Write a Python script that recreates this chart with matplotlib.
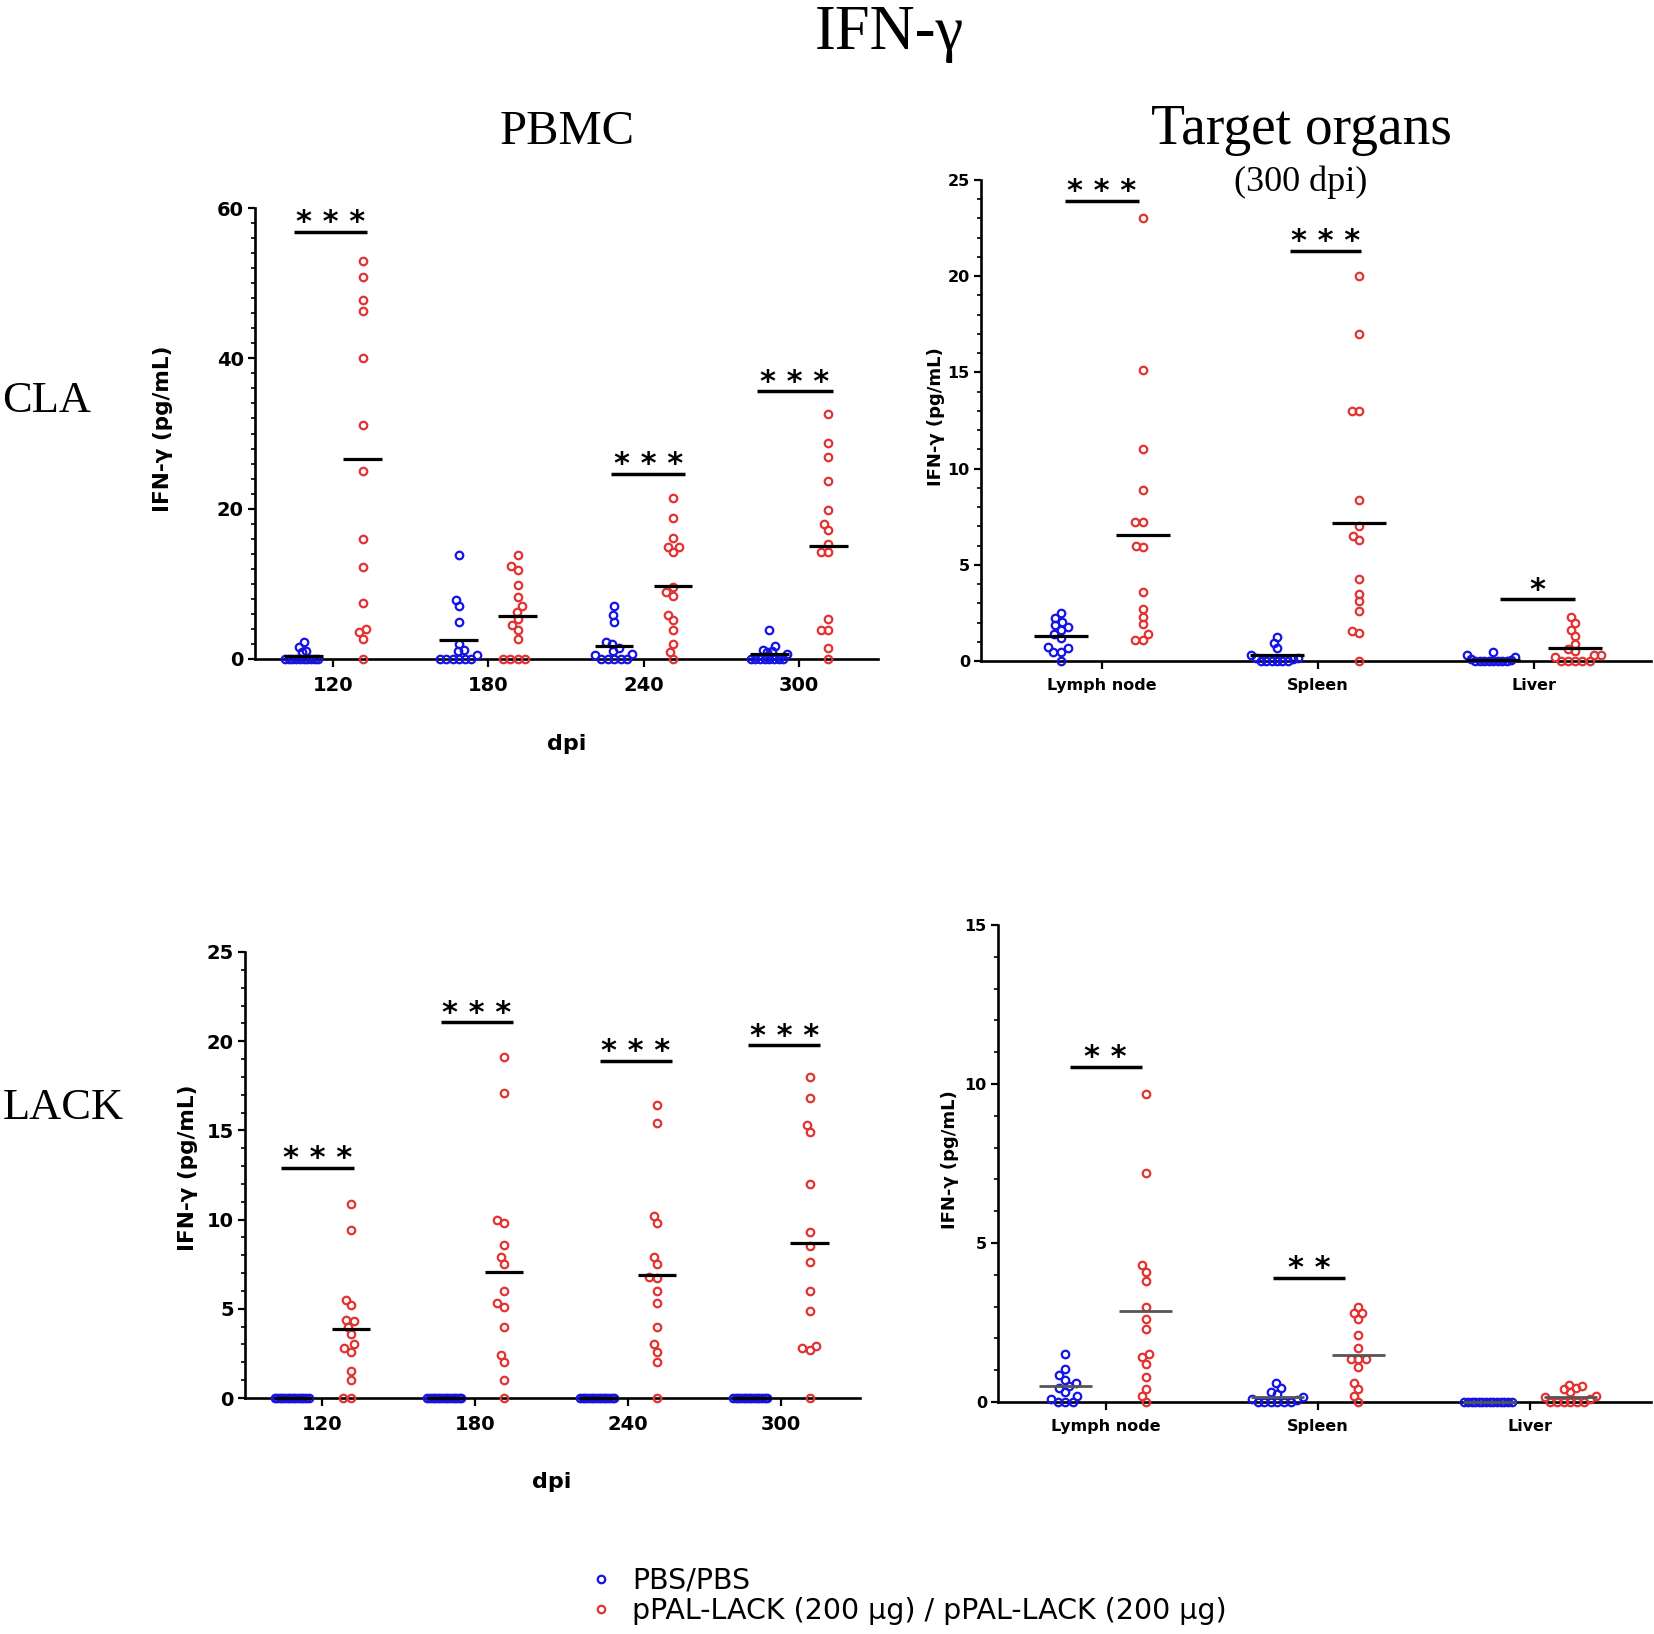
import numpy as np
import matplotlib
matplotlib.use('Agg')
import matplotlib.pyplot as plt
from matplotlib.lines import Line2D
from matplotlib.ticker import MultipleLocator

W, H, DPI = 1654, 1634, 100

# ---------------- data ----------------
pbmc_days = ['120', '180', '240', '300']
organs = ['Lymph node', 'Spleen', 'Liver']

cla_pbmc_pbs = [
    [2.3, 1.6, 1.1, 0.9, 0, 0, 0, 0, 0, 0, 0, 0, 0, 0],
    [13.9, 7.9, 7.0, 4.9, 2.0, 1.2, 1.0, 0.5, 0, 0, 0, 0, 0, 0],
    [7.0, 5.9, 4.9, 2.3, 2.0, 1.5, 1.0, 0.6, 0.5, 0, 0, 0, 0, 0],
    [3.9, 1.7, 1.2, 1.0, 0.9, 0.7, 0, 0, 0, 0, 0, 0, 0, 0],
]
cla_pbmc_lack = [
    [53.0, 50.8, 47.8, 46.3, 40.0, 31.1, 25.0, 16.0, 12.3, 7.5, 4.0, 3.6, 2.7, 0],
    [13.9, 12.4, 11.9, 9.9, 8.2, 7.0, 6.3, 5.3, 4.5, 3.9, 2.6, 0, 0, 0, 0],
    [21.4, 18.7, 16.1, 14.9, 14.9, 14.2, 9.6, 8.9, 8.4, 5.9, 5.2, 3.9, 2.0, 0.9, 0],
    [32.6, 28.8, 26.9, 23.7, 19.8, 17.9, 17.1, 15.3, 14.2, 14.2, 5.3, 3.9, 3.9, 1.4, 0],
]
cla_pbmc_pbs_mean = [0.4, 2.5, 1.7, 0.65]
cla_pbmc_lack_mean = [26.6, 5.7, 9.7, 15.0]

cla_org_pbs = [
    [2.5, 2.25, 2.05, 1.85, 1.75, 1.6, 1.4, 1.2, 0.75, 0.65, 0.45, 0.45, 0],
    [1.25, 0.95, 0.65, 0.3, 0.15, 0.15, 0.1, 0, 0, 0, 0, 0, 0],
    [0.45, 0.3, 0.2, 0.1, 0.05, 0, 0, 0, 0, 0, 0, 0, 0],
]
cla_org_lack = [
    [23.0, 15.1, 11.0, 8.9, 7.2, 7.2, 6.0, 5.9, 3.6, 2.7, 2.3, 1.9, 1.4, 1.1, 1.1],
    [20.0, 17.0, 13.0, 13.0, 8.35, 7.0, 6.5, 6.3, 4.25, 3.5, 3.1, 2.6, 1.55, 1.45, 0],
    [2.3, 2.0, 1.6, 1.3, 0.9, 0.6, 0.5, 0.3, 0.3, 0.2, 0, 0, 0, 0, 0],
]
cla_org_pbs_mean = [1.3, 0.31, 0.07]
cla_org_lack_mean = [6.55, 7.19, 0.7]

lack_pbmc_pbs = [[0] * 14, [0] * 14, [0] * 14, [0] * 14]
lack_pbmc_lack = [
    [10.9, 9.4, 5.5, 5.2, 4.4, 4.3, 4.0, 3.6, 3.0, 2.8, 2.6, 1.5, 1.0, 0, 0],
    [19.1, 17.1, 10.0, 9.8, 8.6, 7.9, 7.5, 6.0, 5.3, 5.1, 4.0, 2.4, 2.0, 1.0, 0],
    [16.4, 15.4, 10.2, 9.8, 7.9, 7.5, 6.8, 6.7, 6.0, 5.3, 4.0, 3.0, 2.6, 2.0, 0],
    [18.0, 16.8, 15.3, 14.9, 12.0, 9.3, 8.5, 7.6, 6.0, 4.9, 2.9, 2.8, 2.7, 0],
]
lack_pbmc_pbs_mean = [0, 0, 0, 0]
lack_pbmc_lack_mean = [3.89, 7.07, 6.92, 8.7]

lack_org_pbs = [
    [1.5, 1.05, 0.85, 0.7, 0.6, 0.5, 0.45, 0.3, 0.2, 0.1, 0, 0, 0],
    [0.6, 0.45, 0.3, 0.25, 0.15, 0.1, 0.05, 0, 0, 0, 0, 0, 0],
    [0] * 14,
]
lack_org_lack = [
    [9.7, 7.2, 4.3, 4.1, 3.8, 3.0, 2.6, 2.3, 1.5, 1.4, 1.2, 0.8, 0.4, 0.2, 0],
    [3.0, 2.8, 2.8, 2.6, 2.1, 1.7, 1.35, 1.35, 1.35, 1.1, 0.6, 0.4, 0.2, 0],
    [0.55, 0.5, 0.45, 0.4, 0.3, 0.2, 0.15, 0.1, 0, 0, 0, 0, 0, 0],
]
lack_org_pbs_mean = [0.5, 0.17, 0]
lack_org_lack_mean = [2.87, 1.47, 0.15]

# significance bars: (category index, y, label, x0 offset, x1 offset)
sig_cla_pbmc = [(0, 56.8, '* * *', -0.25, 0.22), (2, 24.6, '* * *', -0.21, 0.27),
                (3, 35.6, '* * *', -0.27, 0.22)]
sig_cla_org = [(0, 23.9, '* * *', -0.17, 0.17), (1, 21.3, '* * *', -0.13, 0.20),
               (2, 3.2, '*', -0.16, 0.19)]
sig_lack_pbmc = [(0, 12.9, '* * *', -0.27, 0.21), (1, 21.05, '* * *', -0.22, 0.25),
                 (2, 18.9, '* * *', -0.18, 0.29), (3, 19.76, '* * *', -0.21, 0.26)]
sig_lack_org = [(0, 10.55, '* *', -0.17, 0.17), (1, 3.9, '* *', -0.21, 0.13)]

BLUE = '#1414e6'
RED = '#e33232'
SANS = 'DejaVu Sans'
SERIF = 'Liberation Serif'
MS, MEW = 5.4, 1.6

fig = plt.figure(figsize=(W / DPI, H / DPI), dpi=DPI)


def fx(x):
    return x / W


def fy(y):
    return 1 - y / H


def swarm(vals, ppu, d, maxhalf):
    vals = np.asarray(vals, float)
    y = vals * ppu
    order = np.argsort(vals, kind='stable')
    xs = np.zeros(len(vals))
    placed = []
    for i in order:
        cands = [0.0]
        for px, py in placed:
            dy = abs(py - y[i])
            if dy < d:
                dx = np.sqrt(d * d - dy * dy)
                cands += [px + dx, px - dx]
        cands = sorted(cands, key=lambda c: (round(abs(c), 6), c))
        for c in cands:
            if all((c - px) ** 2 + (y[i] - py) ** 2 >= d * d - 1e-6 for px, py in placed):
                xs[i] = c
                break
        placed.append((xs[i], y[i]))
    m = np.abs(xs).max()
    if m > maxhalf:
        xs *= maxhalf / m
    return xs


def panel(rect_px, xlim, ymax, major, minor, cats, pbs, lack, pbs_mean, lack_mean,
          sigs, tick_fs, mean_color='k', mean_lw=2.3):
    x0, x1, ytop, ybot = rect_px
    ax = fig.add_axes([fx(x0), fy(ybot), (x1 - x0) / W, (ybot - ytop) / H])
    ax.set_xlim(*xlim)
    ax.set_ylim(0, ymax)
    for s in ['top', 'right']:
        ax.spines[s].set_visible(False)
    for s in ['left', 'bottom']:
        ax.spines[s].set_linewidth(1.9)
    ax.yaxis.set_major_locator(MultipleLocator(major))
    ax.yaxis.set_minor_locator(MultipleLocator(minor))
    ax.set_xticks(range(len(cats)))
    ax.set_xticklabels(cats)
    ax.tick_params(axis='y', which='major', length=5, width=1.6, labelsize=tick_fs, pad=3)
    ax.tick_params(axis='y', which='minor', length=3, width=1.2)
    ax.tick_params(axis='x', which='major', length=6, width=1.6, labelsize=tick_fs, pad=6)
    for lab in ax.get_xticklabels() + ax.get_yticklabels():
        lab.set_fontweight('bold')
        lab.set_family(SANS)
    ppu = (ybot - ytop) / ymax
    spacing = (x1 - x0) / (xlim[1] - xlim[0])
    d = 7.6
    for i in range(len(cats)):
        for vals, mval, off, col in [(pbs[i], pbs_mean[i], -0.19, BLUE),
                                     (lack[i], lack_mean[i], 0.19, RED)]:
            c = i + off
            xs = swarm(vals, ppu, d, 0.12 * spacing) / spacing
            ax.plot(c + xs, vals, 'o', mfc='none', mec=col, ms=MS, mew=MEW,
                    clip_on=False, zorder=3)
            ax.plot([c - 0.125, c + 0.125], [mval, mval], color=mean_color,
                    lw=mean_lw, zorder=4, solid_capstyle='butt', clip_on=False)
    for ci, yv, lab, a, b in sigs:
        ax.plot([ci + a, ci + b], [yv, yv], color='k', lw=2.5, solid_capstyle='butt',
                clip_on=False, zorder=4)
        ax.annotate(lab, xy=(ci + (a + b) / 2, yv), xytext=(0, 0.5),
                    textcoords='offset points', ha='center', va='baseline',
                    fontsize=22, fontweight='bold', family=SANS, annotation_clip=False)
    return ax


# Panel A: CLA PBMC
panel((255, 878, 208, 659), (-0.503, 3.51), 60, 20, 2, pbmc_days,
      cla_pbmc_pbs, cla_pbmc_lack, cla_pbmc_pbs_mean, cla_pbmc_lack_mean,
      sig_cla_pbmc, 14)
# Panel B: CLA organs
panel((981, 1651, 180, 661), (-0.56, 2.54), 25, 5, 1, organs,
      cla_org_pbs, cla_org_lack, cla_org_pbs_mean, cla_org_lack_mean,
      sig_cla_org, 11.5)
# Panel C: LACK PBMC
panel((245, 860, 952, 1398), (-0.503, 3.52), 25, 5, 1, pbmc_days,
      lack_pbmc_pbs, lack_pbmc_lack, lack_pbmc_pbs_mean, lack_pbmc_lack_mean,
      sig_lack_pbmc, 14)
# Panel D: LACK organs
panel((998, 1651, 925, 1402), (-0.507, 2.57), 15, 5, 1, organs,
      lack_org_pbs, lack_org_lack, lack_org_pbs_mean, lack_org_lack_mean,
      sig_lack_org, 11.5, mean_color='#555555', mean_lw=2.0)

ylab = 'IFN-γ (pg/mL)'
fig.text(fx(163), fy(429), ylab, rotation=90, ha='center', va='center',
         fontsize=15.5, fontweight='bold', family=SANS)
fig.text(fx(936), fy(417), ylab, rotation=90, ha='center', va='center',
         fontsize=13, fontweight='bold', family=SANS)
fig.text(fx(188), fy(1168), ylab, rotation=90, ha='center', va='center',
         fontsize=15.5, fontweight='bold', family=SANS)
fig.text(fx(950), fy(1160), ylab, rotation=90, ha='center', va='center',
         fontsize=13, fontweight='bold', family=SANS)

fig.text(fx(567), fy(744), 'dpi', ha='center', va='center', fontsize=16,
         fontweight='bold', family=SANS)
fig.text(fx(552), fy(1482), 'dpi', ha='center', va='center', fontsize=16,
         fontweight='bold', family=SANS)

fig.text(fx(889), fy(34), 'IFN-γ', ha='center', va='center', fontsize=45, family=SERIF)
fig.text(fx(567), fy(132), 'PBMC', ha='center', va='center', fontsize=35, family=SERIF)
fig.text(fx(1301), fy(130), 'Target organs', ha='center', va='center', fontsize=40,
         family=SERIF)
fig.text(fx(1301), fy(182), '(300 dpi)', ha='center', va='center', fontsize=26,
         family=SERIF)
fig.text(fx(47), fy(401), 'CLA', ha='center', va='center', fontsize=32, family=SERIF)
fig.text(fx(63), fy(1108), 'LACK', ha='center', va='center', fontsize=32, family=SERIF)

handles = [Line2D([], [], marker='o', ls='none', mfc='none', mec=BLUE, ms=MS, mew=MEW),
           Line2D([], [], marker='o', ls='none', mfc='none', mec=RED, ms=MS, mew=MEW)]
fig.legend(handles, ['PBS/PBS', 'pPAL-LACK (200 μg) / pPAL-LACK (200 μg)'],
           loc='center left', bbox_to_anchor=(fx(592), fy(1596)), frameon=False,
           prop={'family': SANS, 'size': 20.5}, handlelength=0.6, handletextpad=0.8,
           labelspacing=0.08, borderaxespad=0, borderpad=0)

fig.savefig('out.png', dpi=DPI)
